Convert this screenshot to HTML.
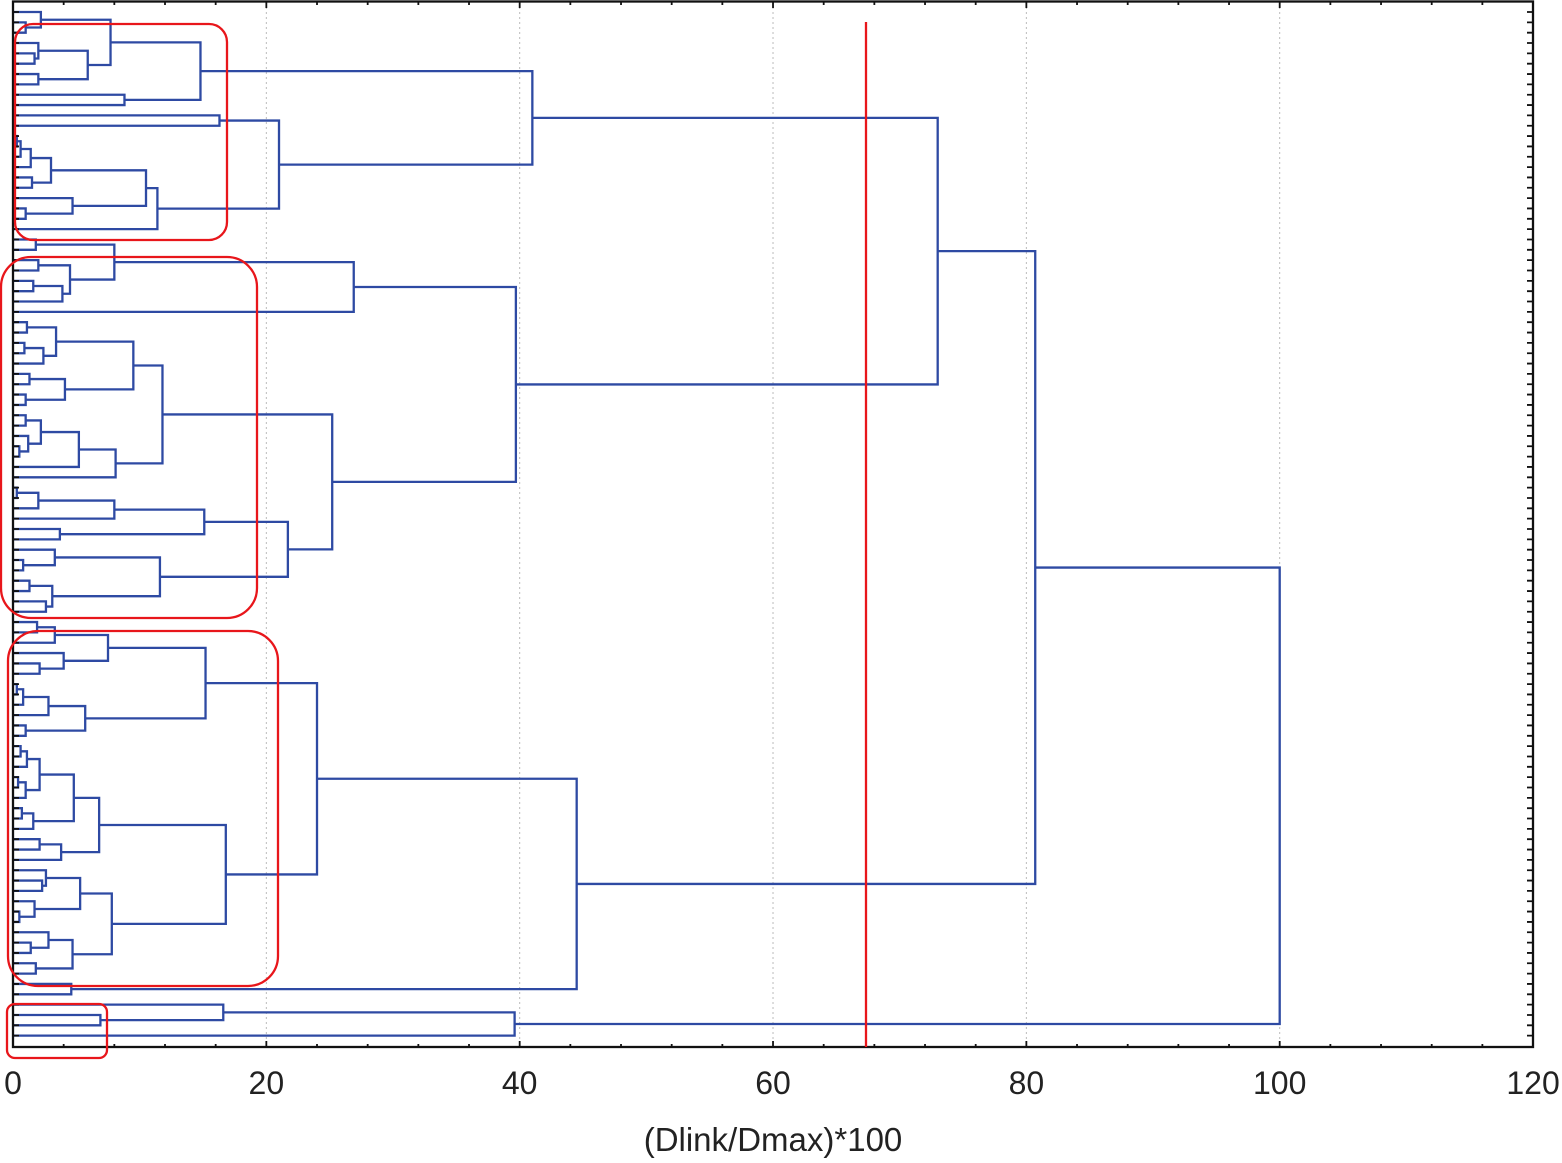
<!DOCTYPE html>
<html><head><meta charset="utf-8"><style>
html,body{margin:0;padding:0;background:#fff;}
svg{display:block;}
text{font-family:"Liberation Sans",Arial,sans-serif;fill:#222;}
</style></head><body>
<svg id="s" width="1562" height="1163" viewBox="0 0 1562 1163" xmlns="http://www.w3.org/2000/svg">
<g id="grid" stroke="#bbb" stroke-width="1" stroke-dasharray="2,3"></g>
<g id="tree" stroke="#2e4aa3" stroke-width="2.3" fill="none"></g>
<g id="ax" stroke="#111" fill="none"></g>
<line x1="866" y1="22" x2="866" y2="1047" stroke="#e8161b" stroke-width="2.3"/>
<g stroke="#e8161b" stroke-width="2.3" fill="none">
<rect x="15" y="24" width="212" height="216" rx="18"/>
<rect x="1" y="257" width="256" height="361" rx="30"/>
<rect x="8" y="631" width="270" height="355" rx="30"/>
<rect x="7" y="1004" width="100" height="54" rx="8"/>
</g>
<g id="lab" font-size="32" text-anchor="middle"></g>
<text x="773" y="1151" font-size="33" text-anchor="middle">(Dlink/Dmax)*100</text>
</svg>
<script>
var X=function(u){return 13+u*12.667;};
var Y=function(i){return 12+i*10.34;};
var G1a=[14.8,[7.7,[2.2,0,[1.0,1,2]],[5.9,[2.0,3,[1.7,4,5]],[2.0,6,7]]],[8.8,8,9]];
var E=[3.0,[1.4,[0.6,[0.3,12,13],14],15],[1.5,16,17]];
var F=[4.7,18,[1.0,19,20]];
var G1=[41,G1a,[21,[16.3,10,11],[11.4,[10.5,E,F],21]]];
var H=[8.0,[1.8,22,23],[4.5,[2.0,24,25],[3.9,[1.6,26,27],28]]];
var G2a=[26.9,H,29];
var K=[9.5,[3.4,[1.1,30,31],[2.4,[0.9,32,33],34]],[4.1,[1.3,35,36],[1.0,37,38]]];
var L=[8.1,[5.2,[2.2,[1.0,39,40],[1.2,41,[0.5,42,43]]],44],45];
var M=[15.1,[8.0,[2.0,[0.3,46,47],48],49],[3.7,50,51]];
var N=[11.6,[3.3,52,[0.8,53,54]],[3.1,[1.3,55,56],[2.6,57,58]]];
var G2=[39.7,G2a,[25.2,[11.8,K,L],[21.7,M,N]]];
var P=[15.2,[7.5,[3.3,[1.9,59,60],61],[4.0,62,[2.1,63,64]]],[5.7,[2.8,[0.8,[0.3,65,66],67],68],[1.0,69,70]]];
var Q=[6.8,[4.8,[2.1,[1.1,[0.6,71,72],73],[1.0,[0.4,74,75],76]],[1.6,[0.7,77,78],79]],[3.8,[2.1,80,81],82]];
var R=[7.8,[5.3,[2.6,83,[2.3,84,85]],[1.7,86,[0.5,87,88]]],[4.7,[2.8,89,[1.4,90,91]],[1.8,92,93]]];
var G3=[44.5,[24,P,[16.8,Q,R]],[4.6,94,95]];
var G4=[39.6,[16.6,96,[6.9,97,98]],99];
var root=[100,[80.7,[73,G1,G2],G3],G4];
var d="";
function draw(n){
 if(typeof n==="number") return {y:Y(n),h:0};
 var a=draw(n[1]),b=draw(n[2]),x=X(n[0]);
 d+="M"+X(a.h)+" "+a.y+"H"+x+"V"+b.y+"H"+X(b.h);
 return {y:(a.y+b.y)/2,h:n[0]};
}
draw(root);
var NS="http://www.w3.org/2000/svg";
function el(p,t,at){var e=document.createElementNS(NS,t);for(var k in at)e.setAttribute(k,at[k]);document.getElementById(p).appendChild(e);return e;}
el("tree","path",{d:d});
[20,40,60,80,100].forEach(function(v){el("grid","line",{x1:X(v),y1:2,x2:X(v),y2:1047});});
el("ax","rect",{x:13,y:1.5,width:1520,height:1045.5,"stroke-width":2.3});
var ad="";
for(var i=0;i<100;i++){var y=Y(i);ad+="M13 "+y+"h6M1533 "+y+"h-6";}
for(var v=0;v<=120;v+=4){var x=X(v);var l=(v%20==0)?6:3;ad+="M"+x+" 1047v-"+l+"M"+x+" 2v"+l;}
el("ax","path",{d:ad,"stroke-width":1.8});
for(var v=0;v<=120;v+=20){var t=el("lab","text",{x:X(v),y:1094});t.textContent=String(v);}
</script>
</body></html>
